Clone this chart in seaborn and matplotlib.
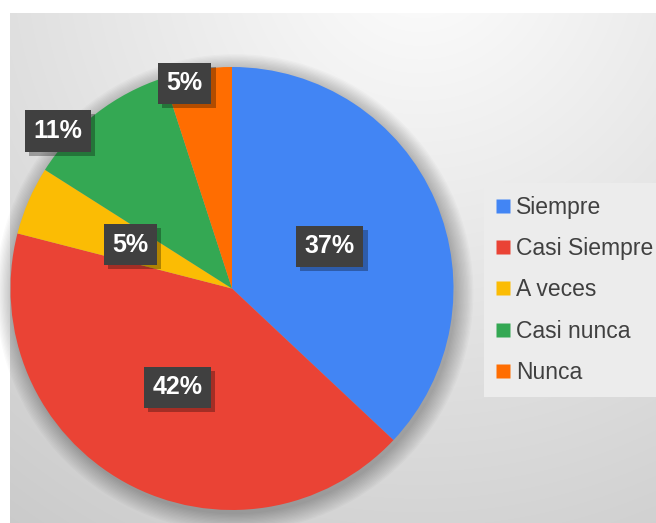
import numpy as np
import matplotlib
matplotlib.use("Agg")
import matplotlib.pyplot as plt
import matplotlib.patheffects as pe
from matplotlib.lines import Line2D
import seaborn as sns

categories = ["Siempre", "Casi Siempre", "A veces", "Casi nunca", "Nunca"]
percentages = [37, 42, 5, 11, 5]
colors = ["#4285F4", "#EA4335", "#FBBC04", "#34A853", "#FF6D01"]

# label placement (radius as fraction of pie radius, angle tweak in degrees)
label_radius = [0.48, 0.51, 0.50, 1.06, 0.95]
label_turn = [0, 0, 0, 10, 4]

sns.set_style("white")
plt.rcParams["font.family"] = ["Liberation Sans", "DejaVu Sans"]

W, H = 656, 523
fig = plt.figure(figsize=(W / 100, H / 100), dpi=100)
fig.patch.set_facecolor("white")

# gradient background panel
bg = fig.add_axes([10 / W, 0, 646 / W, 510 / H])
yy, xx = np.mgrid[0:510, 0:646]
d = np.sqrt((xx - 410) ** 2 + ((yy + 60) * 1.0) ** 2)
shade = 0.995 - 0.20 * (d / 700)
bg.imshow(np.dstack([shade] * 3).clip(0, 1), aspect="auto", extent=[0, 646, 510, 0])
bg.set_axis_off()

# pie axes
cx, cy, R = 232, 288.5, 221.5
ax = fig.add_axes([(cx - R) / W, (H - cy - R) / H, 2 * R / W, 2 * R / H])
ax.set_xlim(-1, 1)
ax.set_ylim(-1, 1)
ax.set_axis_off()

# soft shadow under the pie
for i in range(14):
    circ = plt.Circle((0.012, -0.02), 1.0 + 0.006 * i, color="black",
                      alpha=0.018, lw=0, zorder=0, clip_on=False)
    ax.add_patch(circ)

wedges, _ = ax.pie(percentages, colors=colors, startangle=90, counterclock=False,
                   radius=1, wedgeprops=dict(linewidth=0), frame=False)
ax.set_xlim(-1, 1)
ax.set_ylim(-1, 1)

for w, pct, r, turn in zip(wedges, percentages, label_radius, label_turn):
    mid = np.deg2rad((w.theta1 + w.theta2) / 2 + turn)
    x, y = r * np.cos(mid), r * np.sin(mid)
    t = ax.text(x, y, f"{pct}%", ha="center", va="center", fontsize=18,
                fontweight="bold", color="white",
                bbox=dict(boxstyle="square,pad=0.35", fc="#404040", ec="none"),
                zorder=5)
    t.get_bbox_patch().set_path_effects([
        pe.SimplePatchShadow(offset=(3, -3), shadow_rgbFace="black", alpha=0.3),
        pe.Normal(),
    ])

handles = [Line2D([0], [0], marker="s", color="none", markerfacecolor=c,
                  markeredgecolor="none", markersize=10) for c in colors]
leg = fig.legend(handles, categories, loc="upper left",
                 bbox_to_anchor=(484 / W, 1 - 183 / H), frameon=True,
                 facecolor="#ececec", edgecolor="none", fontsize=16.5,
                 handlelength=0.6, handletextpad=0.25, labelspacing=0.8,
                 borderpad=0.55, borderaxespad=0, fancybox=False)
leg.get_frame().set_alpha(1)
for t in leg.get_texts():
    t.set_color("#404040")

fig.savefig("out.png", dpi=100)
